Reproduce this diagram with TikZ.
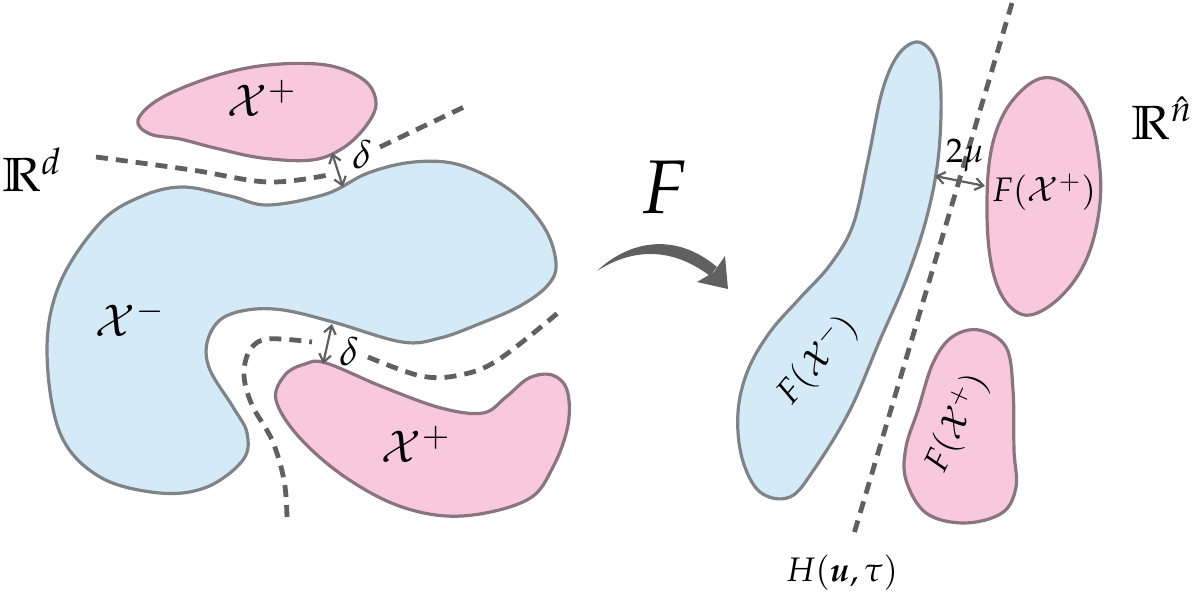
\documentclass[tikz,border=0pt]{standalone}
\usepackage{amsmath}
\usepackage{mathpazo}
\usepackage{bm}
\usepackage{tikz}
\usetikzlibrary{arrows.meta}
\definecolor{blobpink}{RGB}{248,200,221}
\definecolor{blobblue}{RGB}{212,234,247}
\definecolor{edgeblue}{RGB}{128,132,136}
\definecolor{edgepink}{RGB}{138,116,126}
\definecolor{sepgray}{RGB}{96,96,96}
\tikzset{
  posset/.style={fill=blobpink, draw=edgepink, line width=1.6pt},
  negset/.style={fill=blobblue, draw=edgeblue, line width=1.6pt},
  sepline/.style={sepgray, line width=2.4pt, dash pattern=on 6pt off 4pt},
  gaparrow/.style={{Straight Barb[length=4pt, width=6pt]}-{Straight Barb[length=4pt, width=6pt]}, sepgray, line width=1.1pt},
  biglbl/.style={font=\fontsize{22}{24}\selectfont},
  spacelbl/.style={font=\fontsize{24}{26}\selectfont},
  midlbl/.style={font=\fontsize{17}{19}\selectfont},
  deltalbl/.style={font=\fontsize{20}{22}\selectfont}
}
\begin{document}
\begin{tikzpicture}[x=0.5pt, y=-0.5pt]
  \useasboundingbox (0,0) rectangle (1200,600);

  % --- Input space R^d ---
  \draw[posset] plot[smooth cycle, tension=0.6] coordinates {(138,120) (161,98) (215,76) (268,65) (326,65) (364,80) (376,103) (366,126) (343,148) (312,160) (262,158) (215,148) (180,139) (150,134)};
  \draw[negset] plot[smooth cycle, tension=0.6] coordinates {(47,350) (60,283) (100,223) (140,197) (182,187) (230,196) (268,205) (326,194) (368,173) (414,162) (460,165) (510,190) (544,227) (556,263) (548,285) (520,306) (479,324) (440,338) (402,342) (333,322) (283,310) (247,310) (220,320) (207,343) (210,370) (233,407) (247,433) (243,460) (207,487) (160,493) (100,477) (60,433)};
  \draw[posset] plot[smooth cycle, tension=0.6] coordinates {(276,400) (285,375) (305,364) (326,363) (383,387) (441,408) (483,413) (506,397) (529,378) (552,375) (567,390) (568,425) (553,467) (527,500) (462,516) (402,507) (345,477) (299,437)};

  % Separating curves
  \draw[sepline] plot[smooth, tension=0.6] coordinates {(96,157) (192,170) (268,182) (328,175)};
  \draw[sepline] (380,147) -- (464,107);
  \draw[sepline] plot[smooth, tension=0.6] coordinates {(287,517) (284,480) (272,440) (252,405) (244,375) (250,350) (268,339) (312,342)};
  \draw[sepline] plot[smooth, tension=0.6] coordinates {(368,357) (421,376) (460,375) (498,360) (559,312)};

  % Margins delta
  \coordinate (ptop) at (332,153);
  \coordinate (ntop) at (343,187);
  \coordinate (nbot) at (332,324);
  \coordinate (pbot) at (323,364);
  \draw[gaparrow] (ptop) -- (ntop);
  \draw[gaparrow] (nbot) -- (pbot);
  \node[deltalbl] (deltatop) at (362,154) {$\delta$};
  \node[deltalbl] (deltabot) at (349,351) {$\delta$};

  % Labels
  \node[biglbl] (xpostop) at (262,98) {$\mathcal{X}^{+}$};
  \node[biglbl] (xneg) at (130,318) {$\mathcal{X}^{-}$};
  \node[biglbl] (xposbot) at (416,444) {$\mathcal{X}^{+}$};
  \node[spacelbl] (rd) at (32,170) {$\mathbb{R}^{d}$};

  % --- Map F ---
  \node[font=\fontsize{38}{40}\selectfont] (fmap) at (664,187) {$F$};
  \coordinate (fstart) at (597,271);
  \coordinate (fend) at (728,289);
  \fill[sepgray] (fstart) .. controls (625,244) and (672,229) .. (717,267)
    -- (710,276) .. controls (668,244) and (628,251) .. (fstart) -- cycle;
  \fill[sepgray] (697,282) -- (fend) -- (725,256) -- (714,272) -- cycle;

  % --- Feature space R^n ---
  \draw[negset] plot[smooth cycle, tension=0.6] coordinates {(918,42) (935,58) (941,95) (938,160) (926,220) (906,280) (880,340) (850,410) (815,468) (790,497) (760,492) (742,458) (738,412) (748,370) (770,332) (800,298) (830,265) (853,225) (868,160) (882,92) (898,55)};
  \draw[posset] plot[smooth cycle, tension=0.65] coordinates {(1052,78) (1084,104) (1099,160) (1098,218) (1080,272) (1045,309) (1015,311) (993,272) (987,200) (995,135) (1020,92)};
  \draw[posset] plot[smooth cycle, tension=0.6] coordinates {(979,330) (1006,347) (1013,390) (1014,450) (1016,487) (1002,513) (964,523) (926,513) (906,480) (906,447) (918,410) (933,363) (952,337)};

  % Hyperplane
  \coordinate (htop) at (1012,3);
  \coordinate (hbot) at (853,537);
  \draw[sepline] (htop) -- (hbot);

  % Margin 2mu
  \coordinate (fneg) at (935,176);
  \coordinate (fpos) at (985,186);
  \draw[gaparrow] (fneg) -- (fpos);
  \node[midlbl] (twomu) at (965,156) {$2\mu$};

  % Labels
  \node[midlbl] (fxpos) at (1044,192) {$F(\mathcal{X}^{+})$};
  \node[midlbl, rotate=50] (fxneg) at (818,360) {$F(\mathcal{X}^{-})$};
  \node[midlbl, rotate=65] (fxpos2) at (957,423) {$F(\mathcal{X}^{+})$};
  \node[spacelbl] (rn) at (1162,118) {$\mathbb{R}^{\hat{n}}$};
  \node[midlbl] (hplane) at (842,573) {$H(\bm{u},\tau)$};
\end{tikzpicture}
\end{document}
